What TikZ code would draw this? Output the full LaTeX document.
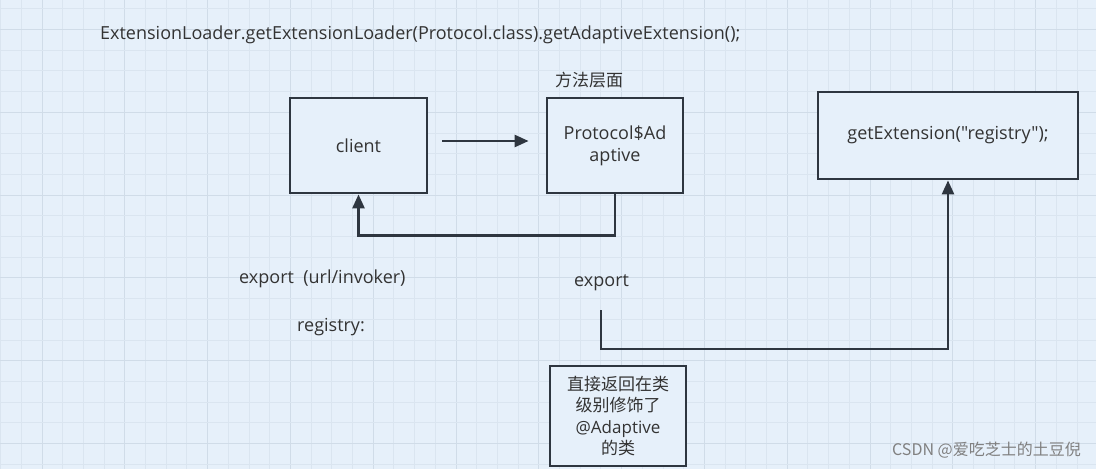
\documentclass[tikz,border=0pt]{standalone}
\usepackage{fontspec}
\setmainfont{Open Sans}[Ligatures=TeXOff]
\newfontfamily\cjk{Noto Sans CJK SC}
\usepackage{tikz}
\usetikzlibrary{arrows.meta, calc}

\definecolor{paper}{HTML}{E6F0FA}
\definecolor{gridminor}{HTML}{DAE5F0}
\definecolor{gridmajor}{HTML}{D0DCE8}
\definecolor{ink}{HTML}{2E3640}
\definecolor{txt}{HTML}{333333}

\begin{document}
\begin{tikzpicture}[
        x=1pt, y=-1pt,
        every node/.style={text=txt, font=\fontsize{18}{22}\selectfont},
        box/.style={draw=ink, line width=2.8pt, fill=paper, align=center, inner sep=0pt},
        arrow/.style={-{Triangle[length=14pt, width=12pt]}, line width=2.6pt, draw=ink},
        plain/.style={inner sep=0pt}
    ]

    % Background and grid
    \fill[paper] (0,0) rectangle (1096,469);
    \useasboundingbox (0,0) rectangle (1096,469);
    \foreach \k in {0,...,52} {
        \pgfmathtruncatemacro{\m}{mod(\k,4)}
        \ifnum\m=2 \def\gc{gridmajor}\else\def\gc{gridminor}\fi
        \draw[\gc, line width=0.8pt] (0.5+20.7*\k,0) -- (0.5+20.7*\k,469);
    }
    \foreach \k in {0,...,22} {
        \pgfmathtruncatemacro{\m}{mod(\k,4)}
        \ifnum\m=1 \def\gc{gridmajor}\else\def\gc{gridminor}\fi
        \draw[\gc, line width=0.8pt] (0,8.7+20.7*\k) -- (1096,8.7+20.7*\k);
    }

    % Nodes
    \node[box, minimum width=137pt, minimum height=95pt] (client) at (358.5,145.5) {client};
    \node[box, minimum width=136pt, minimum height=95pt] (proto) at (615,145.5) {Protocol\$Ad\\aptive};
    \node[box, minimum width=260pt, minimum height=87pt] (getext) at (948,135.5) {getExtension("registry");};
    \node[box, minimum width=136pt, minimum height=100pt, font=\fontsize{17}{21.5}\selectfont] (note) at (618,416)
        {\cjk 直接返回在类\\\cjk 级别修饰了\\@Adaptive\\\cjk 的类};

    % Labels
    \node[plain, anchor=west] (call) at (100,35) {ExtensionLoader.getExtensionLoader(Protocol.class).getAdaptiveExtension();};
    \node[plain, font=\cjk\fontsize{17}{20}\selectfont] (level) at (589,80) {方法层面};
    \node[plain, anchor=west] (expurl) at (239,279) {export\ \ (url/invoker)};
    \node[plain, anchor=west] (reg) at (297,327) {registry:};
    \node[plain, anchor=west] (exp) at (574,283) {export};
    \node[plain, anchor=east, text=gray, font=\cjk\fontsize{16}{19}\selectfont] (mark) at (1081,450) {CSDN @爱吃芝士的土豆倪};

    % Arrows
    \coordinate (expstart) at (601,310);
    \draw[arrow, shorten <=14pt, shorten >=17pt] ([yshift=4.5pt]client.east) -- ([yshift=4.5pt]proto.west);
    \draw[arrow] (proto.south) -- ++(0,41) -| (client.south);
    \draw[arrow] (expstart) -- ++(0,39) -| (getext.south);

\end{tikzpicture}
\end{document}
